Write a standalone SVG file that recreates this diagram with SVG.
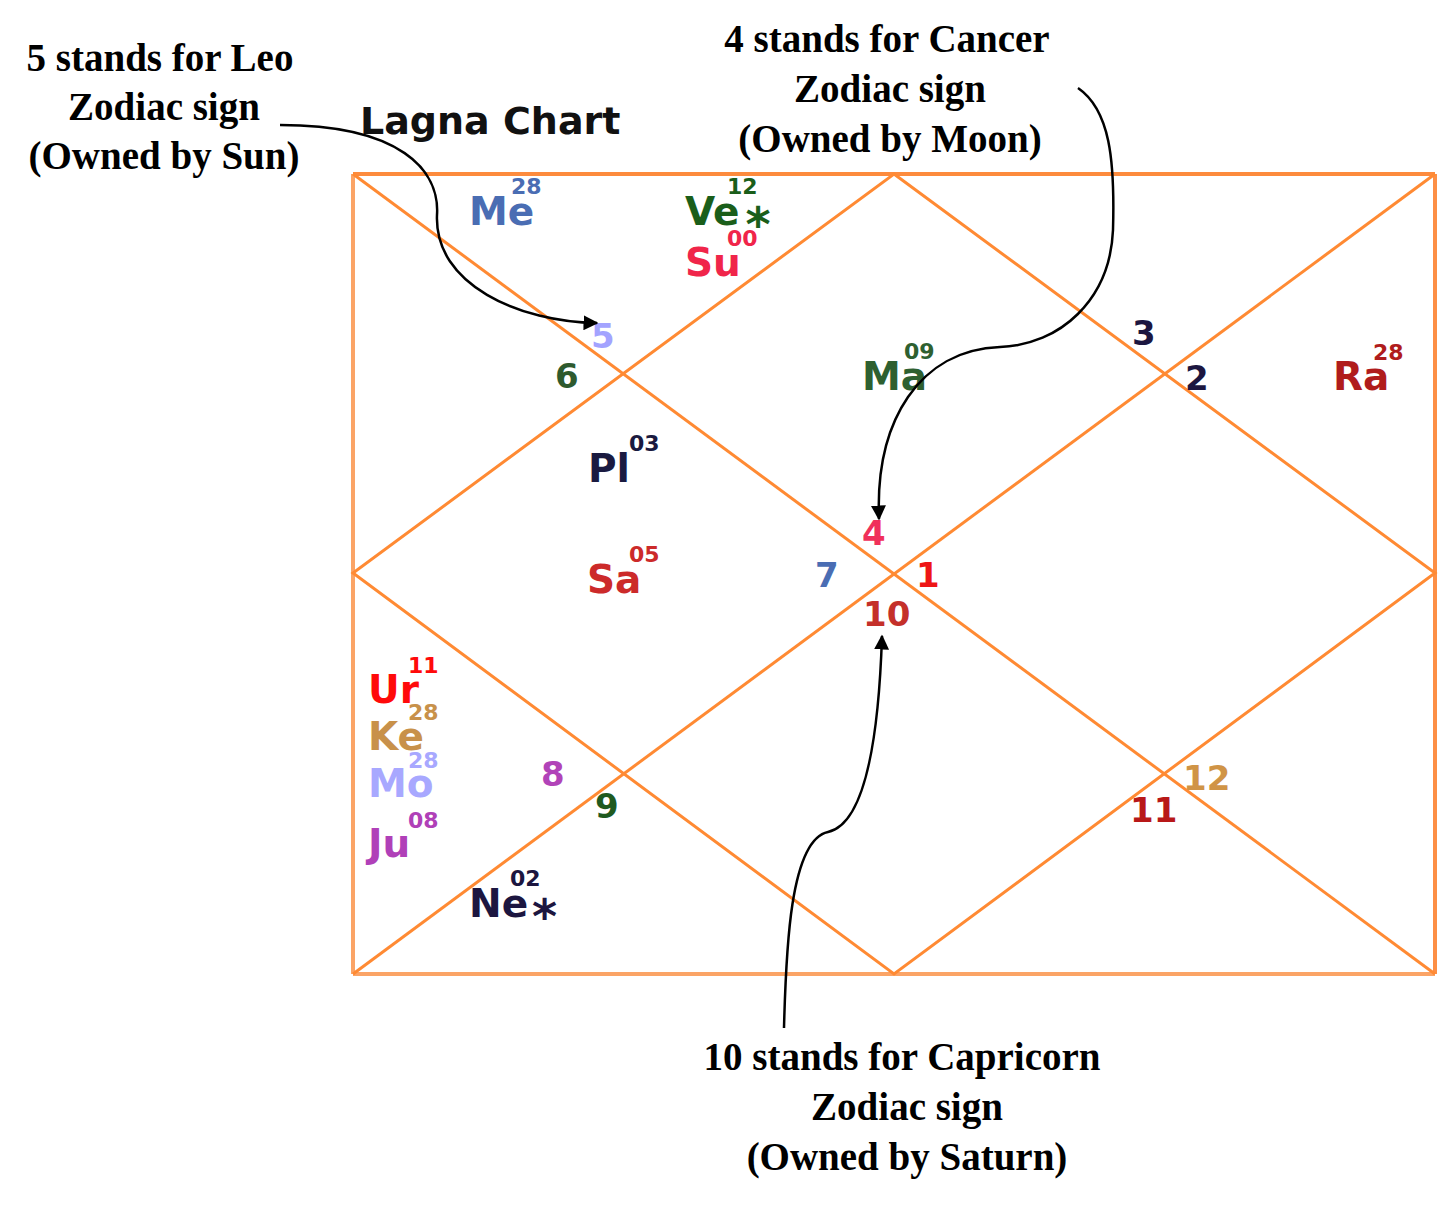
<svg xmlns="http://www.w3.org/2000/svg" width="1449" height="1206" viewBox="0 0 1449 1206">
<style>
.ann{font-family:"Liberation Serif","DejaVu Serif",serif;font-weight:bold;font-size:39px;fill:#000;text-anchor:middle}
.pl{font-family:"DejaVu Sans",Verdana,sans-serif;font-weight:bold;font-size:39px}
.sup{font-family:"DejaVu Sans",Verdana,sans-serif;font-weight:bold;font-size:22px}
.num{font-family:"DejaVu Sans",Verdana,sans-serif;font-weight:bold;font-size:34px}
.star{font-size:48px}
.title{font-family:"DejaVu Sans",Verdana,sans-serif;font-weight:bold;font-size:38px;fill:#111}
.grid{stroke:#ff8a33;stroke-width:3;fill:none}
.conn{stroke:#000;stroke-width:2.5;fill:none}
</style>
<defs>
<marker id="ah" viewBox="0 0 10 10" refX="9" refY="5" markerWidth="6" markerHeight="6" orient="auto" markerUnits="strokeWidth">
<path d="M0,0 L10,5 L0,10 z" fill="#000"/>
</marker>
</defs>
<rect width="1449" height="1206" fill="#fff"/>
<g id="chart">
<line x1="353" y1="174" x2="1435" y2="174" stroke="#fd8b3d" stroke-width="4"/>
<line x1="1435" y1="174" x2="1435" y2="974" stroke="#fd8f45" stroke-width="4"/>
<line x1="353" y1="174" x2="353" y2="974" stroke="#fba466" stroke-width="4"/>
<line x1="353" y1="974" x2="1435" y2="974" stroke="#fba466" stroke-width="4"/>
<line class="grid" x1="353" y1="174" x2="1435" y2="974"/>
<line class="grid" x1="1435" y1="174" x2="353" y2="974"/>
<polygon class="grid" points="894,174 1435,573 894,974 353,573"/>
</g>
<g id="title"><text class="title" x="360" y="134">Lagna Chart</text></g>
<g id="houses">
<text class="num" x="591" y="348" fill="#a3a3ff">5</text>
<text class="num" x="555" y="388" fill="#2e5a2e">6</text>
<text class="num" x="1132" y="345" fill="#1c1640">3</text>
<text class="num" x="1185" y="390" fill="#1c1640">2</text>
<text class="num" x="862" y="545" fill="#f0305a">4</text>
<text class="num" x="815" y="587" fill="#4a6db3">7</text>
<text class="num" x="916" y="587" fill="#ee1515">1</text>
<text class="num" x="863" y="626" fill="#c4302a">10</text>
<text class="num" x="541" y="786" fill="#b143b8">8</text>
<text class="num" x="595" y="818" fill="#1f5a1f">9</text>
<text class="num" x="1183" y="790" fill="#d09446">12</text>
<text class="num" x="1130" y="822" fill="#b81818">11</text>
</g>
<g id="planets">
<g id="me" fill="#4a6db3"><text class="pl" x="469" y="225">Me</text><text class="sup" x="511" y="194">28</text></g>
<g id="ve" fill="#1a5e1a"><text class="pl" x="685" y="225">Ve<tspan class="star" dx="6" dy="16">*</tspan></text><text class="sup" x="727" y="194">12</text></g>
<g id="su" fill="#f0254a"><text class="pl" x="685" y="276">Su</text><text class="sup" x="727" y="246">00</text></g>
<g id="ma" fill="#2e6030"><text class="pl" x="862" y="390">Ma</text><text class="sup" x="904" y="359">09</text></g>
<g id="ra" fill="#b01c1c"><text class="pl" x="1333" y="390">Ra</text><text class="sup" x="1373" y="360">28</text></g>
<g id="pl" fill="#1a1a40"><text class="pl" x="588" y="482">Pl</text><text class="sup" x="629" y="451">03</text></g>
<g id="sa" fill="#cc2a2a"><text class="pl" x="587" y="593">Sa</text><text class="sup" x="629" y="562">05</text></g>
<g id="ur" fill="#ff0a0a"><text class="pl" x="368" y="703">Ur</text><text class="sup" x="408" y="673">11</text></g>
<g id="ke" fill="#c8914a"><text class="pl" x="368" y="750">Ke</text><text class="sup" x="408" y="720">28</text></g>
<g id="mo" fill="#a8a8ff"><text class="pl" x="368" y="797">Mo</text><text class="sup" x="408" y="768">28</text></g>
<g id="ju" fill="#b040b8"><text class="pl" x="368" y="857">Ju</text><text class="sup" x="408" y="828">08</text></g>
<g id="ne" fill="#1c1640"><text class="pl" x="469" y="917">Ne<tspan class="star" dx="4" dy="16">*</tspan></text><text class="sup" x="510" y="886">02</text></g>
</g>
<g id="annotations">
<g id="leo"><text class="ann" x="160" y="71">5 stands for Leo</text><text class="ann" x="164" y="120">Zodiac sign</text><text class="ann" x="164" y="169">(Owned by Sun)</text></g>
<g id="cancer"><text class="ann" x="887" y="52">4 stands for Cancer</text><text class="ann" x="890" y="102">Zodiac sign</text><text class="ann" x="890" y="152">(Owned by Moon)</text></g>
<g id="capricorn"><text class="ann" x="902" y="1070">10 stands for Capricorn</text><text class="ann" x="907" y="1120">Zodiac sign</text><text class="ann" x="907" y="1170">(Owned by Saturn)</text></g>
</g>
<g id="connectors">
<path class="conn" marker-end="url(#ah)" d="M280,125 C400,125 440,170 437,215 C434,285 520,322 597,323"/>
<path class="conn" marker-end="url(#ah)" d="M1078,88 C1110,110 1115,160 1113,230 C1110,300 1060,345 1000,347 C920,350 875,420 879,519"/>
<path class="conn" marker-end="url(#ah)" d="M784,1028 C786,950 790,840 828,832 C860,825 878,760 882,636"/>
</g>
</svg>
